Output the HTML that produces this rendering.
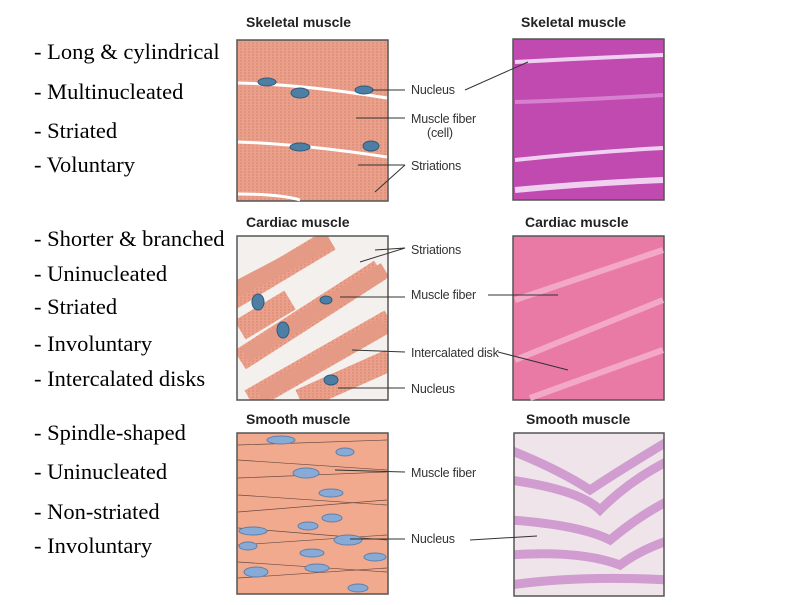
<!DOCTYPE html>
<html><head><style>
body{margin:0;background:#fff;width:800px;height:600px;overflow:hidden}
</style></head><body>
<svg width="800" height="600" xmlns="http://www.w3.org/2000/svg">
<defs>
<pattern id="str" width="4" height="6" patternUnits="userSpaceOnUse"><rect width="4" height="6" fill="#eaa08a"/><line x1="1" y1="0" x2="1" y2="6" stroke="#d98670" stroke-width="1" stroke-dasharray="2,1"/></pattern>
<clipPath id="cc"><rect x="237" y="236" width="151" height="164"/></clipPath>
<clipPath id="cs"><rect x="514" y="433" width="150" height="163"/></clipPath>
</defs>
<g font-family="Liberation Serif, serif" font-size="22.5" fill="#000">
<text x="34" y="59">- Long &amp; cylindrical</text>
<text x="34" y="99">- Multinucleated</text>
<text x="34" y="138">- Striated</text>
<text x="34" y="172">- Voluntary</text>
<text x="34" y="246">- Shorter &amp; branched</text>
<text x="34" y="281">- Uninucleated</text>
<text x="34" y="314">- Striated</text>
<text x="34" y="351">- Involuntary</text>
<text x="34" y="386">- Intercalated disks</text>
<text x="34" y="440">- Spindle-shaped</text>
<text x="34" y="479">- Uninucleated</text>
<text x="34" y="519">- Non-striated</text>
<text x="34" y="553">- Involuntary</text>
</g>
<g font-family="Liberation Sans, sans-serif" font-weight="bold" font-size="14" fill="#222">
<text x="246" y="27">Skeletal muscle</text>
<text x="521" y="27">Skeletal muscle</text>
<text x="246" y="227">Cardiac muscle</text>
<text x="525" y="227">Cardiac muscle</text>
<text x="246" y="424">Smooth muscle</text>
<text x="526" y="424">Smooth muscle</text>
</g>
<rect x="237" y="40" width="151" height="161" fill="url(#str)" stroke="#555" stroke-width="1.5"/>
<path d="M238 83 Q300 84 387 98" stroke="#fff" stroke-width="3" fill="none"/>
<path d="M238 142 Q300 144 387 157" stroke="#fff" stroke-width="3" fill="none"/>
<path d="M238 194 Q280 194 300 200" stroke="#fff" stroke-width="3" fill="none"/>
<g fill="#4d7fa4" stroke="#2f5a7c"><ellipse cx="267" cy="82" rx="9" ry="4"/><ellipse cx="300" cy="93" rx="9" ry="5"/><ellipse cx="364" cy="90" rx="9" ry="4"/><ellipse cx="300" cy="147" rx="10" ry="4"/><ellipse cx="371" cy="146" rx="8" ry="5"/></g>
<rect x="513" y="39" width="151" height="161" fill="#c04ab0" stroke="#555" stroke-width="1.5"/>
<path d="M515 102 Q580 100 663 95" stroke="#d880d0" stroke-width="4" fill="none"/>
<path d="M515 160 Q590 152 663 148" stroke="#f0d0f0" stroke-width="4" fill="none"/>
<path d="M515 190 Q590 183 663 180" stroke="#f0d0f0" stroke-width="6" fill="none"/>
<path d="M515 62 Q590 58 663 55" stroke="#f0d0f0" stroke-width="4" fill="none"/>
<rect x="237" y="236" width="151" height="164" fill="#f4f0ee"/>
<g clip-path="url(#cc)">
<g stroke="url(#str)" stroke-width="22" fill="none"><path d="M230 300 L330 240"/><path d="M240 360 L380 270"/><path d="M250 400 L390 320"/><path d="M300 400 L390 360"/><path d="M240 330 L290 300"/></g>
<g stroke="#e49a85" stroke-width="16" fill="none"><path d="M235 290 L330 240"/><path d="M245 355 L385 270"/><path d="M260 395 L385 325"/></g>
<g fill="#4d7fa4" stroke="#2f5a7c"><ellipse cx="258" cy="302" rx="6" ry="8"/><ellipse cx="283" cy="330" rx="6" ry="8"/><ellipse cx="331" cy="380" rx="7" ry="5"/><ellipse cx="326" cy="300" rx="6" ry="4"/></g>
</g>
<rect x="237" y="236" width="151" height="164" fill="none" stroke="#555" stroke-width="1.5"/>
<rect x="513" y="236" width="151" height="164" fill="#e97aa6" stroke="#555" stroke-width="1.5"/>
<g stroke="#f4a8c8" stroke-width="6" fill="none"><path d="M515 300 L663 250"/><path d="M515 360 L663 300"/><path d="M530 398 L663 350"/></g>
<rect x="237" y="433" width="151" height="161" fill="#f1aa8e" stroke="#555" stroke-width="1.5"/>
<g stroke="#6b4a40" stroke-width="0.7" fill="none">
<path d="M238 445 L387 440"/><path d="M238 460 L387 470"/><path d="M238 478 L387 472"/><path d="M238 495 L387 505"/><path d="M238 512 L387 500"/><path d="M238 528 L387 540"/><path d="M238 545 L387 535"/><path d="M238 562 L387 572"/><path d="M238 578 L387 568"/></g>
<g fill="#87aad6" stroke="#5f7fa8"><ellipse cx="281" cy="440" rx="14" ry="4"/><ellipse cx="345" cy="452" rx="9" ry="4"/><ellipse cx="306" cy="473" rx="13" ry="5"/><ellipse cx="331" cy="493" rx="12" ry="4"/><ellipse cx="332" cy="518" rx="10" ry="4"/><ellipse cx="308" cy="526" rx="10" ry="4"/><ellipse cx="253" cy="531" rx="14" ry="4"/><ellipse cx="348" cy="540" rx="14" ry="5"/><ellipse cx="312" cy="553" rx="12" ry="4"/><ellipse cx="256" cy="572" rx="12" ry="5"/><ellipse cx="317" cy="568" rx="12" ry="4"/><ellipse cx="358" cy="588" rx="10" ry="4"/><ellipse cx="375" cy="557" rx="11" ry="4"/><ellipse cx="248" cy="546" rx="9" ry="4"/></g>
<rect x="514" y="433" width="150" height="163" fill="#eee4ea"/>
<g clip-path="url(#cs)">
<g stroke="#cc90cc" stroke-width="9" fill="none" opacity="0.85"><path d="M510 450 Q560 470 590 490 Q620 470 670 440"/><path d="M510 480 Q580 490 600 510 Q630 480 670 460"/><path d="M510 520 Q580 525 610 540 Q640 515 670 500"/><path d="M510 555 Q580 550 620 565 Q640 550 670 540"/><path d="M510 585 Q580 575 670 580"/></g>
</g>
<rect x="514" y="433" width="150" height="163" fill="none" stroke="#555" stroke-width="1.5"/>
<g font-family="Liberation Sans, sans-serif" font-size="12.5" fill="#333" letter-spacing="-0.2">
<text x="411" y="94">Nucleus</text>
<text x="411" y="123">Muscle fiber</text>
<text x="427" y="137">(cell)</text>
<text x="411" y="170">Striations</text>
<text x="411" y="254">Striations</text>
<text x="411" y="299">Muscle fiber</text>
<text x="411" y="357">Intercalated disk</text>
<text x="411" y="393">Nucleus</text>
<text x="411" y="477">Muscle fiber</text>
<text x="411" y="543">Nucleus</text>
</g>
<g stroke="#333" stroke-width="1" fill="none">
<path d="M372 90 L405 90"/><path d="M356 118 L405 118"/><path d="M358 165 L405 165 M375 192 L405 165"/>
<path d="M465 90 L528 62"/>
<path d="M375 250 L405 248 M360 262 L405 248"/><path d="M340 297 L405 297"/><path d="M352 350 L405 352"/><path d="M338 388 L405 388"/>
<path d="M488 295 L558 295"/><path d="M498 352 L568 370"/>
<path d="M335 470 L405 472"/><path d="M350 539 L405 539"/><path d="M470 540 L537 536"/>
</g>
</svg>
</body></html>
